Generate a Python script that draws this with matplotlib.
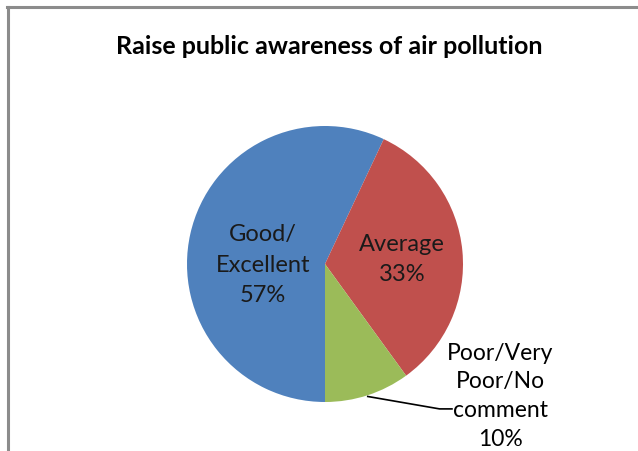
import matplotlib
matplotlib.use("Agg")
import matplotlib.pyplot as plt
from matplotlib.lines import Line2D

title = "Raise public awareness of air pollution"
categories = ["Good/\nExcellent", "Average", "Poor/Very\nPoor/No\ncomment"]
values = [57, 33, 10]
colors = ["#4F81BD", "#C0504D", "#9BBB59"]

plt.rcParams['font.family'] = ['Lato', 'DejaVu Sans']

fig = plt.figure(figsize=(6.38, 4.52), dpi=100)
fig.patch.set_facecolor("white")

# chart border (left and top visible only, cropped screenshot)
fig.add_artist(Line2D([7.5 / 638, 7.5 / 638], [0, 1 - 7.5 / 452], color="#8C8C8C", lw=2.2, transform=fig.transFigure))
fig.add_artist(Line2D([6.5 / 638, 1], [1 - 8 / 452, 1 - 8 / 452], color="#8C8C8C", lw=2.2, transform=fig.transFigure))

cx, cy, r = 325, 265, 138
ax = fig.add_axes([(cx - r) / 638, (452 - cy - r) / 452, 2 * r / 638, 2 * r / 452])
ax.pie(values, colors=colors, startangle=-90, counterclock=False, radius=1,
       wedgeprops=dict(linewidth=0))
ax.set_xlim(-1, 1)
ax.set_ylim(-1, 1)
ax.set_aspect("equal")
ax.axis("off")

fs = 17
ax.text(-0.45, 0.0, categories[0] + "\n" + f"{values[0]}%", ha="center", va="center",
        fontsize=fs, color="#1a1a1a", linespacing=1.55)
ax.text(0.56, 0.04, categories[1] + "\n" + f"{values[1]}%", ha="center", va="center",
        fontsize=fs, color="#1a1a1a", linespacing=1.5)
ax.text(1.27, -0.95, categories[2] + "\n" + f"{values[2]}%", ha="center", va="center",
        fontsize=16.5, color="#000000", linespacing=1.45, clip_on=False)
ax.plot([0.31, 0.83, 0.92], [-0.96, -1.05, -1.05], color="black", lw=1.2, clip_on=False)

fig.text(329 / 638, 1 - 47 / 452, title, ha="center", va="center", fontsize=18,
         fontweight="bold", color="black")

fig.savefig("out.png", dpi=100)
